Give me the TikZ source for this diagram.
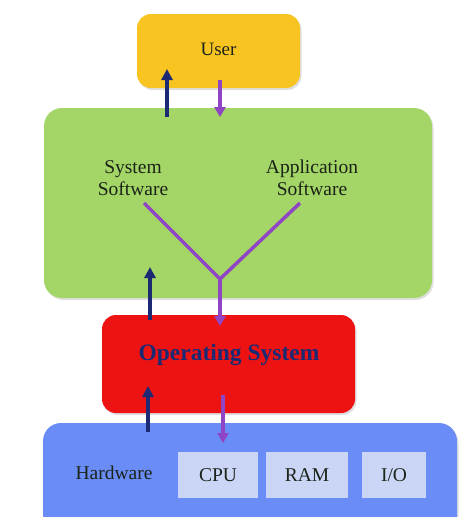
\documentclass[tikz,border=0pt]{standalone}
\usepackage{fontspec}
\setmainfont{Liberation Serif}
\usetikzlibrary{arrows.meta,shadows}
\definecolor{userY}{HTML}{F8C422}
\definecolor{swG}{HTML}{A3D567}
\definecolor{osR}{HTML}{EE1313}
\definecolor{hwB}{HTML}{6A8CF6}
\definecolor{partB}{HTML}{CBD6F7}
\definecolor{navyA}{HTML}{1B2A72}
\definecolor{purpA}{HTML}{9045C4}
\definecolor{txt}{HTML}{1C2318}
\tikzset{
  layer/.style={rounded corners=14pt, draw=none, drop shadow={shadow xshift=1.5pt,shadow yshift=-2pt,opacity=0.25}},
  part/.style={fill=partB, draw=none, minimum height=46pt, font=\fontsize{19.5}{22}\selectfont, text=txt},
  upA/.style={navyA, line width=3.5pt, -{Triangle[width=11pt,length=11pt]}},
  downA/.style={purpA, line width=3.5pt, -{Triangle[width=11pt,length=10pt]}},
  plainP/.style={purpA, line width=3.5pt},
  lbl/.style={font=\fontsize{19.5}{22}\selectfont, text=txt, align=center}
}
\begin{document}
\begin{tikzpicture}[x=1pt,y=-1pt]
\useasboundingbox (0,0) rectangle (474,517);
\clip (0,0) rectangle (474,517);
% boxes
\node[layer, fill=userY, minimum width=163pt, minimum height=74pt] (user) at (218.5,51) {};
\node[lbl, font=\fontsize{19}{22}\selectfont] (usertxt) at (218.5,49) {User};
\node[layer, fill=swG, minimum width=388pt, minimum height=190pt, rounded corners=18pt] (sw) at (238,203) {};
\node[layer, fill=osR, minimum width=253pt, minimum height=98pt] (os) at (228.5,364) {};
\node[font=\bfseries\fontsize{23.5}{26}\selectfont, text=navyA] (ostxt) at (229,355) {Operating System};
\node[layer, fill=hwB, minimum width=414pt, minimum height=130pt, rounded corners=18pt] (hw) at (250,488) {};
% texts in software layer
\node[lbl] (syss) at (133,178) {System\\Software};
\node[lbl] (apps) at (312,178) {Application\\Software};
% hardware
\node[lbl, font=\fontsize{19.5}{22}\selectfont] (hwt) at (114,473) {Hardware};
\node[part, minimum width=80pt] (cpu) at (218,475) {CPU};
\node[part, minimum width=82pt] (ram) at (307,475) {RAM};
\node[part, minimum width=64pt] (io) at (394,475) {I/O};
% coordinates
\coordinate (a1s) at (167,117);
\coordinate (a1e) at (167,69);
\coordinate (a2s) at (220,80);
\coordinate (a2e) at (220,117);
\coordinate (ls) at (144,203);
\coordinate (rs) at (300,203);
\coordinate (jn) at (220,279);
\coordinate (stemE) at (220,326);
\coordinate (a3s) at (150,320);
\coordinate (a3e) at (150,267);
\coordinate (a4s) at (148,432);
\coordinate (a4e) at (148,386);
\coordinate (a5s) at (223,395);
\coordinate (a5e) at (223,443);
% arrows
\draw[upA] (a1s) -- (a1e);
\draw[downA] (a2s) -- (a2e);
\draw[plainP, line join=miter] (ls) -- (jn) -- (rs);
\draw[downA] (jn) -- (stemE);
\draw[upA] (a3s) -- (a3e);
\draw[upA] (a4s) -- (a4e);
\draw[downA] (a5s) -- (a5e);
\end{tikzpicture}
\end{document}
